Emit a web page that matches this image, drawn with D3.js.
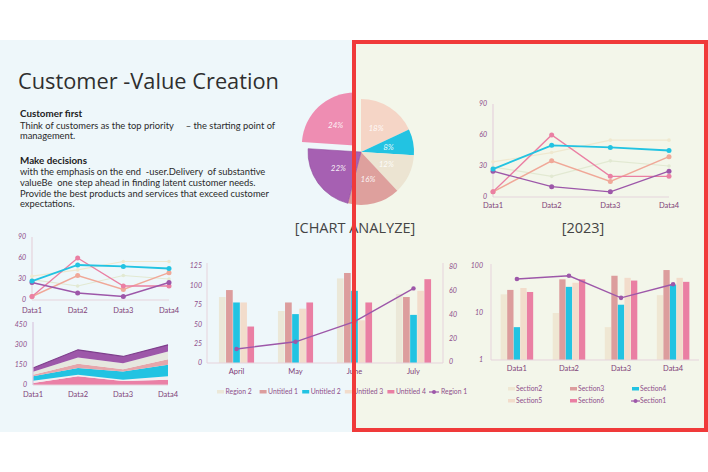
<!DOCTYPE html>
<html><head><meta charset="utf-8">
<script src="https://cdn.jsdelivr.net/npm/d3@7/dist/d3.min.js"></script>
<style>html,body{margin:0;padding:0;background:#fff;}svg{display:block;}</style>
</head><body>
<svg id="chart" width="708" height="472"></svg>
<script>
// ---------------- data ----------------
const titleText = "Customer -Value Creation";
const heading1 = "Customer first";
const para1 = ["Think of customers as the top priority     \u2013 the starting point of", "management."];
const heading2 = "Make decisions";
const para2 = ["with the emphasis on the end  -user.Delivery  of substantive",
  "valueBe  one step ahead in finding latent customer needs.",
  "Provide the best products and services that exceed customer",
  "expectations."];

const pieValues = [18, 8, 12, 16, 22, 24];
const pieLabels = ["18%", "8%", "12%", "16%", "22%", "24%"];
const pieTitle = "[CHART ANALYZE]";
const yearLabel = "[2023]";

const lineCats = ["Data1", "Data2", "Data3", "Data4"];
const lineTicks = [0, 30, 60, 90];
const lineSage = [29, 20, 35, 30];
const lineCream = [34, 43, 55, 55];
const lineSalmon = [5, 35, 15, 39];
const linePink = [5, 60, 20, 20];
const linePurple = [25, 10, 5, 25];
const lineCyan = [27, 50, 48, 45];

const areaTicks = [0, 150, 300, 450];
const areaPink = [15, 65, 30, 40];
const areaWhite = [17, 12, 10, 25];
const areaCyan = [33, 50, 62, 87];
const areaRose = [12, 32, 17, 42];
const areaGrey = [23, 47, 45, 57];
const areaPurple = [27, 58, 50, 50];

const months = ["April", "May", "June", "July"];
const barLeftTicks = [0, 25, 50, 75, 100, 125];
const barRightTicks = [0, 20, 40, 60, 80];
const barSeriesNames = ["Region 2", "Untitled 1", "Untitled 2", "Untitled 3", "Untitled 4"];
const region2 = [85, 67, 109, 89];
const untitled1 = [94, 78, 116, 85];
const untitled2 = [78, 63, 93, 62];
const untitled3 = [78, 70, 55, 93];
const untitled4 = [47, 78, 78, 108];
const lineSeriesName = "Region 1";
const region1 = [11, 17, 34, 62];

const logCats = ["Data1", "Data2", "Data3", "Data4"];
const logTicks = [1, 10, 100];
const sectionNames = ["Section2", "Section3", "Section4", "Section5", "Section6"];
const section2 = [25, 10, 5, 24];
const section3 = [31, 52, 62, 82];
const section4 = [5, 36, 15, 40];
const section5 = [34, 44, 56, 56];
const section6 = [28, 52, 49, 46];
const section1Name = "Section1";
const section1 = [53, 62, 21, 41];

// ---------------- styles ----------------
const COL = {
  cyan: "#22c3e2", pink: "#ea7fa3", rose: "#dc9d9d", salmon: "#f0a898", purple: "#9d57a9",
  cream: "#f2dccb", pale: "#ebe8d8", sage: "#e2e9d2", lcream: "#efe8cf", axis: "#e6d3dc",
  tick: "#8e4f8a", cat: "#7f3f78"
};
const FONT = "Lato, 'Open Sans', sans-serif";

const svg = d3.select("#chart");

// backgrounds
svg.append("rect").attr("x", 0).attr("y", 40).attr("width", 354).attr("height", 392).attr("fill", "#eef7fa");
svg.append("rect").attr("x", 354).attr("y", 40).attr("width", 354).attr("height", 392).attr("fill", "#f3f6ea");

// ---------------- text block ----------------
svg.append("text").attr("x", 18).attr("y", 89).attr("font-family", "'Open Sans', sans-serif")
  .attr("font-size", 21.8).attr("fill", "#2f2f2f").text(titleText);

function textBlock(head, lines, y0) {
  svg.append("text").attr("x", 20).attr("y", y0).attr("font-family", FONT).attr("font-weight", 700)
    .attr("font-size", 9.8).attr("fill", "#222").text(head);
  lines.forEach((l, i) => {
    svg.append("text").attr("x", 20).attr("y", y0 + 11.5 + i * 10.8).attr("font-family", FONT)
      .attr("font-size", 9.35).attr("fill", "#2a2a2a").style("white-space", "pre").text(l);
  });
}
textBlock(heading1, para1, 117);
textBlock(heading2, para2, 163.5);

// ---------------- pie ----------------
const pieColors = ["#f5d5c6", COL.cyan, "#ece4d2", "#dea09d", "#a660b2", "#ee8db2"];
const pieData = d3.pie().sort(null).value(d => d)(pieValues);
const R = 53;
const arc = d3.arc().innerRadius(0).outerRadius(R);
const pg = svg.append("g").attr("transform", "translate(361,152)");
function explode(d, i) {
  if (i !== 5) return [0, 0];
  const m = (d.startAngle + d.endAngle) / 2;
  return [Math.sin(m) * 9, -Math.cos(m) * 9];
}
pg.selectAll("path").data(pieData).join("path")
  .attr("d", arc).attr("fill", (d, i) => pieColors[i])
  .attr("stroke", (d, i) => i === 4 ? "#8e4a9c" : "none").attr("stroke-width", 0.6)
  .attr("transform", (d, i) => `translate(${explode(d, i)})`);
const labelArc = d3.arc().innerRadius(28).outerRadius(28);
pg.selectAll("text.pl").data(pieData).join("text").attr("class", "pl")
  .attr("transform", (d, i) => { const c = labelArc.centroid(d), o = explode(d, i); return `translate(${c[0] + o[0]},${c[1] + o[1] + 3})`; })
  .attr("text-anchor", "middle").attr("font-family", FONT).attr("font-style", "italic")
  .attr("font-size", 8).attr("fill", "#fff").attr("fill-opacity", 0.9).text((d, i) => pieLabels[i]);

svg.append("text").attr("x", 355).attr("y", 233).attr("text-anchor", "middle")
  .attr("font-family", "'Open Sans', sans-serif").attr("font-size", 14.5).attr("fill", "#444").text(pieTitle);
svg.append("text").attr("x", 583).attr("y", 233).attr("text-anchor", "middle")
  .attr("font-family", "'Open Sans', sans-serif").attr("font-size", 14.5).attr("fill", "#444").text(yearLabel);

// ---------------- helpers ----------------
function tickText(g, x, y, t, anchor) {
  g.append("text").attr("x", x).attr("y", y).attr("dy", "0.35em").attr("text-anchor", anchor || "end")
    .attr("font-family", FONT).attr("font-style", "italic").attr("font-size", 7).attr("fill", COL.tick).text(t);
}
function catText(g, x, y, t) {
  g.append("text").attr("x", x).attr("y", y).attr("text-anchor", "middle")
    .attr("font-family", FONT).attr("font-size", 7.5).attr("fill", COL.cat).text(t);
}

// ---------------- line charts ----------------
function lineChart(x0, x1, yTop, yBottom, labelY) {
  const g = svg.append("g");
  const x = d3.scalePoint().domain(lineCats).range([x0, x1]);
  const y = d3.scaleLinear().domain([0, 90]).range([yBottom, yTop]);
  g.append("line").attr("x1", x0).attr("x2", x0).attr("y1", yTop).attr("y2", yBottom).attr("stroke", COL.axis).attr("stroke-width", 1.2);
  g.append("line").attr("x1", x0).attr("x2", x1).attr("y1", yBottom).attr("y2", yBottom).attr("stroke", COL.axis).attr("stroke-width", 1.2);
  lineTicks.forEach(t => tickText(g, x0 - 6, y(t), t));
  lineCats.forEach(c => catText(g, x(c), labelY, c));
  const series = [
    [lineSage, COL.sage, 1.2], [lineCream, COL.lcream, 1.2], [lineSalmon, COL.salmon, 1.4],
    [linePink, COL.pink, 1.4], [linePurple, COL.purple, 1.4], [lineCyan, COL.cyan, 1.8]
  ];
  const ln = d3.line().x((d, i) => x(lineCats[i])).y(d => y(d));
  series.forEach(([vals, col, w]) => {
    g.append("path").attr("d", ln(vals)).attr("fill", "none").attr("stroke", col).attr("stroke-width", w);
    g.selectAll(null).data(vals).join("circle").attr("cx", (d, i) => x(lineCats[i])).attr("cy", d => y(d))
      .attr("r", w > 1.3 ? 2.5 : 1.8).attr("fill", col);
  });
}
lineChart(493, 669, 104, 197, 208);
lineChart(32, 169, 237, 300, 313);

// ---------------- stacked area ----------------
(function () {
  const g = svg.append("g");
  const keys = ["pink", "white", "cyan", "rose", "grey", "purple"];
  const src = [areaPink, areaWhite, areaCyan, areaRose, areaGrey, areaPurple];
  const table = lineCats.map((c, i) => { const o = { cat: c }; keys.forEach((k, j) => o[k] = src[j][i]); return o; });
  const stack = d3.stack().keys(keys)(table);
  const x = d3.scalePoint().domain(lineCats).range([33, 168]);
  const y = d3.scaleLinear().domain([0, 450]).range([385, 325]);
  const cols = { pink: "#ea80a6", white: "#f3eef0", cyan: COL.cyan, rose: "#e6a6ab", grey: "#e6e7df", purple: "#9d57a9" };
  const area = d3.area().x(d => x(d.data.cat)).y0(d => y(d[0])).y1(d => y(d[1]));
  g.selectAll("path").data(stack).join("path").attr("d", area).attr("fill", d => cols[d.key]);
  const top = stack[stack.length - 1];
  g.append("path").attr("d", d3.line().x(d => x(d.data.cat)).y(d => y(d[1]))(top)).attr("fill", "none").attr("stroke", "#7e3f8c").attr("stroke-width", 1.2);
  g.append("line").attr("x1", 33).attr("x2", 33).attr("y1", 322).attr("y2", 385).attr("stroke", "#d9c6e0").attr("stroke-width", 1.2);
  g.append("line").attr("x1", 33).attr("x2", 168).attr("y1", 385).attr("y2", 385).attr("stroke", COL.axis).attr("stroke-width", 1);
  areaTicks.forEach(t => tickText(g, 27, y(t), t));
  lineCats.forEach(c => catText(g, x(c), 397, c));
})();

// ---------------- grouped bar + line (months) ----------------
(function () {
  const g = svg.append("g");
  const x0 = d3.scaleBand().domain(months).range([207, 443]).paddingInner(0.39).paddingOuter(0.195);
  const x1 = d3.scaleBand().domain(barSeriesNames).range([0, x0.bandwidth()]).padding(0.06);
  const yL = d3.scaleLinear().domain([0, 125]).range([363, 266]);
  const yR = d3.scaleLinear().domain([0, 80]).range([362, 267]);
  const series = [region2, untitled1, untitled2, untitled3, untitled4];
  const cols = [COL.pale, COL.rose, COL.cyan, COL.cream, COL.pink];
  months.forEach((m, i) => {
    series.forEach((s, j) => {
      g.append("rect").attr("x", x0(m) + x1(barSeriesNames[j])).attr("width", x1.bandwidth())
        .attr("y", yL(s[i])).attr("height", yL(0) - yL(s[i])).attr("fill", cols[j]);
    });
  });
  g.append("line").attr("x1", 207).attr("x2", 207).attr("y1", 263).attr("y2", 363).attr("stroke", COL.axis);
  g.append("line").attr("x1", 443).attr("x2", 443).attr("y1", 263).attr("y2", 363).attr("stroke", COL.axis);
  g.append("line").attr("x1", 207).attr("x2", 443).attr("y1", 363).attr("y2", 363).attr("stroke", COL.axis);
  barLeftTicks.forEach(t => tickText(g, 202, yL(t), t));
  barRightTicks.forEach(t => tickText(g, 449, yR(t), t, "start"));
  months.forEach(m => catText(g, x0(m) + x0.bandwidth() / 2, 374, m));
  const cx = m => x0(m) + x0.bandwidth() / 2;
  g.append("path").attr("d", d3.line().x((d, i) => cx(months[i])).y(d => yR(d))(region1))
    .attr("fill", "none").attr("stroke", COL.purple).attr("stroke-width", 1.4);
  g.selectAll(null).data(region1).join("circle").attr("cx", (d, i) => cx(months[i])).attr("cy", d => yR(d)).attr("r", 2.2).attr("fill", COL.purple);
  // legend
  const names = barSeriesNames.concat([lineSeriesName]);
  const lcols = cols.concat([COL.purple]);
  names.forEach((n, i) => {
    const lx = 217 + i * 42.6, ly = 392;
    if (i < 5) g.append("rect").attr("x", lx).attr("y", ly - 2).attr("width", 7).attr("height", 3.5).attr("fill", lcols[i]);
    else {
      g.append("line").attr("x1", lx - 1).attr("x2", lx + 9).attr("y1", ly).attr("y2", ly).attr("stroke", COL.purple).attr("stroke-width", 1.2);
      g.append("circle").attr("cx", lx + 4).attr("cy", ly).attr("r", 2).attr("fill", COL.purple);
    }
    g.append("text").attr("x", lx + (i < 5 ? 8.5 : 11)).attr("y", ly).attr("dy", "0.35em").attr("font-family", FONT)
      .attr("font-size", 6.8).attr("fill", COL.tick).text(n);
  });
})();

// ---------------- log bar + line (sections) ----------------
(function () {
  const g = svg.append("g");
  const x0 = d3.scaleBand().domain(logCats).range([491, 699]).paddingInner(0.365).paddingOuter(0.18);
  const x1 = d3.scaleBand().domain(sectionNames).range([0, x0.bandwidth()]).padding(0.04);
  const y = d3.scaleLog().domain([1, 100]).range([360, 266]);
  const series = [section2, section3, section4, section5, section6];
  const cols = ["#efe7d3", COL.rose, COL.cyan, COL.cream, COL.pink];
  logCats.forEach((c, i) => {
    series.forEach((s, j) => {
      g.append("rect").attr("x", x0(c) + x1(sectionNames[j])).attr("width", x1.bandwidth())
        .attr("y", y(s[i])).attr("height", y(1) - y(s[i])).attr("fill", cols[j]);
    });
  });
  g.append("line").attr("x1", 491).attr("x2", 491).attr("y1", 264).attr("y2", 360).attr("stroke", COL.axis);
  g.append("line").attr("x1", 491).attr("x2", 699).attr("y1", 360).attr("y2", 360).attr("stroke", COL.axis);
  logTicks.forEach(t => tickText(g, 483, y(t), t));
  const cx = c => x0(c) + x0.bandwidth() / 2;
  logCats.forEach(c => catText(g, cx(c), 371, c));
  g.append("path").attr("d", d3.line().x((d, i) => cx(logCats[i])).y(d => y(d))(section1))
    .attr("fill", "none").attr("stroke", COL.purple).attr("stroke-width", 1.4);
  g.selectAll(null).data(section1).join("circle").attr("cx", (d, i) => cx(logCats[i])).attr("cy", d => y(d)).attr("r", 2.3).attr("fill", COL.purple);
  const names = sectionNames.concat([section1Name]);
  const lcols = cols.concat([COL.purple]);
  names.forEach((n, i) => {
    const col = i % 3, row = Math.floor(i / 3);
    const lx = 508 + col * 62, ly = 389 + row * 12;
    if (i < 5) g.append("rect").attr("x", lx).attr("y", ly - 2).attr("width", 7).attr("height", 3.5).attr("fill", lcols[i]);
    else {
      g.append("line").attr("x1", lx - 1).attr("x2", lx + 8).attr("y1", ly).attr("y2", ly).attr("stroke", COL.purple).attr("stroke-width", 1.2);
      g.append("circle").attr("cx", lx + 3.5).attr("cy", ly).attr("r", 2).attr("fill", COL.purple);
    }
    g.append("text").attr("x", lx + 8).attr("y", ly).attr("dy", "0.35em").attr("font-family", FONT)
      .attr("font-size", 6.8).attr("fill", COL.tick).text(n);
  });
})();

// ---------------- highlight frame ----------------
svg.append("rect").attr("x", 354).attr("y", 42).attr("width", 352).attr("height", 388)
  .attr("fill", "none").attr("stroke", "#f03a3a").attr("stroke-width", 4);
</script>
</body></html>
